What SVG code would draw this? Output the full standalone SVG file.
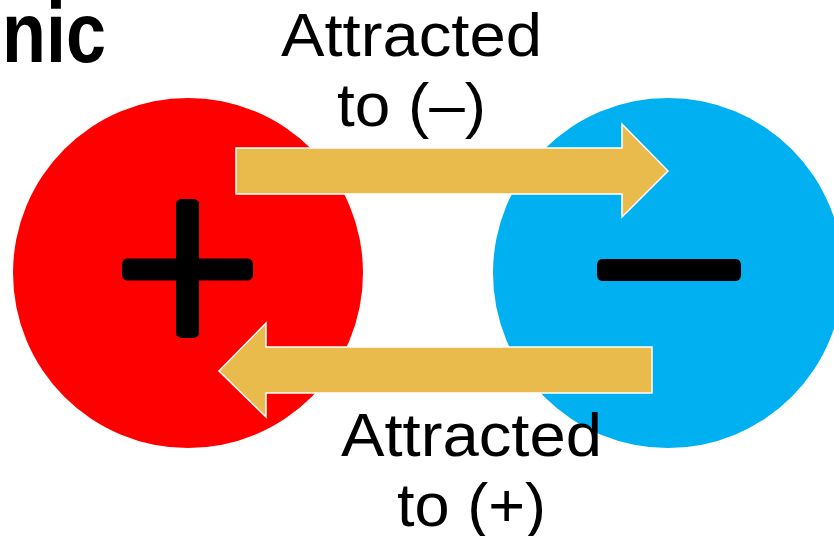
<svg xmlns="http://www.w3.org/2000/svg" width="834" height="536" viewBox="0 0 834 536">
  <style>
    .arrow { fill: #E9BB4C; stroke: #FFFFFF; stroke-width: 1.5; stroke-linejoin: miter; }
    .sign { fill: #000000; }
    .label { font-family: "Liberation Sans", Arial, sans-serif; font-size: 61px; fill: #000000; }
    .title { font-family: "Liberation Sans", Arial, sans-serif; font-size: 85px; font-weight: bold; fill: #000000; }
  </style>
  <rect width="834" height="536" fill="#FFFFFF"/>
  <g id="title">
    <text class="title" x="2" y="62" textLength="104" lengthAdjust="spacingAndGlyphs">nic</text>
  </g>
  <g id="positive-ion">
    <circle cx="188" cy="273" r="175" fill="#FF0000"/>
    <rect class="sign" x="176" y="199" width="23" height="139" rx="6" ry="5"/>
    <rect class="sign" x="122" y="258.5" width="131" height="22" rx="5" ry="6"/>
  </g>
  <g id="negative-ion">
    <circle cx="668" cy="273" r="175" fill="#00B0F0"/>
    <rect class="sign" x="597" y="259" width="144" height="22" rx="5" ry="6"/>
  </g>
  <g id="connectors">
    <polygon class="arrow" points="236,148 622,148 622,124 668,171 622,217 622,194 236,194"/>
    <polygon class="arrow" points="652,347 266,347 266,323 219,371 266,417 266,393 652,393"/>
  </g>
  <g id="label-top">
    <text class="label" x="281" y="56" textLength="261" lengthAdjust="spacingAndGlyphs">Attracted</text>
    <text class="label" x="337" y="126" textLength="149" lengthAdjust="spacingAndGlyphs">to (–)</text>
  </g>
  <g id="label-bottom">
    <text class="label" x="341" y="456" textLength="261" lengthAdjust="spacingAndGlyphs">Attracted</text>
    <text class="label" x="397" y="526" textLength="149" lengthAdjust="spacingAndGlyphs">to (+)</text>
  </g>
</svg>
